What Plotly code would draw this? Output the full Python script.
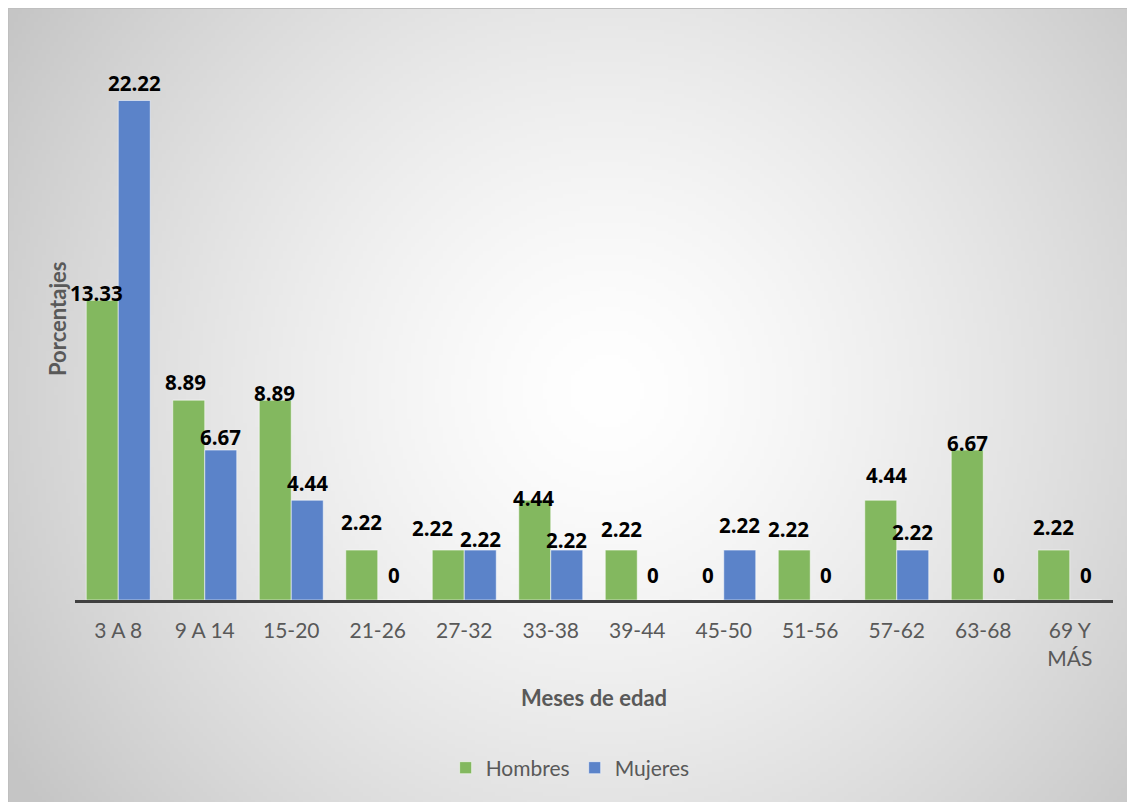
import base64
import struct
import zlib

import numpy as np
import plotly.graph_objects as go

# ---------------- data ----------------
categories = ["3 A 8", "9 A 14", "15-20", "21-26", "27-32", "33-38",
              "39-44", "45-50", "51-56", "57-62", "63-68", "69 Y<br>MÁS"]
hombres = [13.33, 8.89, 8.89, 2.22, 2.22, 4.44, 2.22, 0, 2.22, 4.44, 6.67, 2.22]
mujeres = [22.22, 6.67, 4.44, 0, 2.22, 2.22, 0, 2.22, 0, 2.22, 0, 0]

# ---------------- style ----------------
W, H = 1135, 802
ML, MR, MT, MB = 67, 30, 30, 210
GREEN = "#83B85F"
BLUE = "#5B83C9"
GRAY_TXT = "#595959"
FONT = "Lato"
LABEL_FONT = "Open Sans"

# label nudges (pixels) : (dx, dy-up from bar top)
hom_nudge = [(-6, 7), (-3, 18), (-1, 7), (0, 28), (-16, 22), (-1, 2),
             (0, 21), (0, 25), (-6, 21), (6, 25), (0, 7), (0, 23)]
muj_nudge = [(0, 17), (0, 13), (0, 17), (0, 25), (0, 11), (0, 10),
             (0, 25), (0, 25), (0, 25), (0, 18), (0, 25), (0, 25)]
BAR_HALF = 16


# ---------------- background gradient (radial) ----------------
def gray_png(arr):
    h, w = arr.shape
    raw = b"".join(b"\x00" + arr[i].tobytes() for i in range(h))

    def chunk(tag, data):
        c = tag + data
        return struct.pack(">I", len(data)) + c + struct.pack(">I", zlib.crc32(c) & 0xFFFFFFFF)

    png = b"\x89PNG\r\n\x1a\n"
    png += chunk(b"IHDR", struct.pack(">IIBBBBB", w, h, 8, 0, 0, 0, 0))
    png += chunk(b"IDAT", zlib.compress(raw, 9))
    png += chunk(b"IEND", b"")
    return "data:image/png;base64," + base64.b64encode(png).decode()


scale = 4
gw, gh = W // scale, H // scale
yy, xx = np.mgrid[0:gh, 0:gw]
cx, cy = 595 / scale, 380 / scale
d = np.sqrt((xx - cx) ** 2 + (yy - cy) ** 2)
dmax = np.sqrt(cx ** 2 + cy ** 2)
r = np.clip(d / dmax, 0, 1)
img = (255 - 58 * r ** 1.4).clip(0, 255).astype(np.uint8)
bg_src = gray_png(img)

pw = W - ML - MR
ph = H - MT - MB

fig = go.Figure()
fig.add_trace(go.Bar(x=categories, y=hombres, name="Hombres",
                     marker=dict(color=GREEN, line=dict(color="rgba(255,255,255,0.55)", width=1))))
fig.add_trace(go.Bar(x=categories, y=mujeres, name="Mujeres",
                     marker=dict(color=BLUE, line=dict(color="rgba(255,255,255,0.55)", width=1))))

annotations = []
for i, c in enumerate(categories):
    for vals, nudge, sign in ((hombres, hom_nudge, -1), (mujeres, muj_nudge, 1)):
        dx, dy = nudge[i]
        v = vals[i]
        annotations.append(dict(
            x=c, y=v, xref="x", yref="y", text=f"{v:g}" if v else "0",
            showarrow=False, xanchor="center", yanchor="middle",
            xshift=sign * BAR_HALF + dx, yshift=dy,
            font=dict(family=LABEL_FONT, size=20.5, color="black", weight="bold")))

annotations.append(dict(x=0.5, y=0, xref="paper", yref="paper", text="<b>Meses de edad</b>",
                        showarrow=False, xanchor="center", yanchor="middle", yshift=-97,
                        font=dict(family=FONT, size=22, color=GRAY_TXT)))
annotations.append(dict(x=0, y=0.5, xref="paper", yref="paper", text="<b>Porcentajes</b>",
                        showarrow=False, xanchor="center", yanchor="middle", xshift=-18,
                        textangle=-90, font=dict(family=FONT, size=22, color=GRAY_TXT)))

fig.update_layout(
    width=W, height=H,
    margin=dict(l=ML, r=MR, t=MT, b=MB, pad=0),
    paper_bgcolor="white",
    plot_bgcolor="rgba(0,0,0,0)",
    barmode="group",
    bargap=0.26,
    bargroupgap=0.0,
    font=dict(family=FONT, size=21, color=GRAY_TXT),
    showlegend=True,
    legend=dict(orientation="h", x=0.477, xanchor="center", y=-0.299, yanchor="middle",
                font=dict(family=FONT, size=21, color=GRAY_TXT), bgcolor="rgba(0,0,0,0)",
                traceorder="normal"),
    annotations=annotations,
    images=[dict(source=bg_src, xref="paper", yref="paper",
                 x=-ML / pw, y=1 + MT / ph, sizex=W / pw, sizey=H / ph,
                 xanchor="left", yanchor="top", sizing="stretch", layer="below")],
    shapes=[dict(type="rect", xref="paper", yref="paper",
                 x0=-ML / pw, x1=1 + MR / pw, y0=-MB / ph, y1=1 + MT / ph,
                 line=dict(color="#BFBFBF", width=2), layer="below")],
    xaxis=dict(range=[-0.5, len(categories) - 0.5], autorange=False,
               showline=True, linecolor="#404040", linewidth=3, showgrid=False,
               ticks="outside", ticklen=10, tickcolor="rgba(0,0,0,0)",
               tickfont=dict(family=FONT, size=21, color=GRAY_TXT), zeroline=False),
    yaxis=dict(range=[0, 25], showticklabels=False, showgrid=False, zeroline=False,
               showline=False, ticks=""),
)

fig.write_html("out.html")
